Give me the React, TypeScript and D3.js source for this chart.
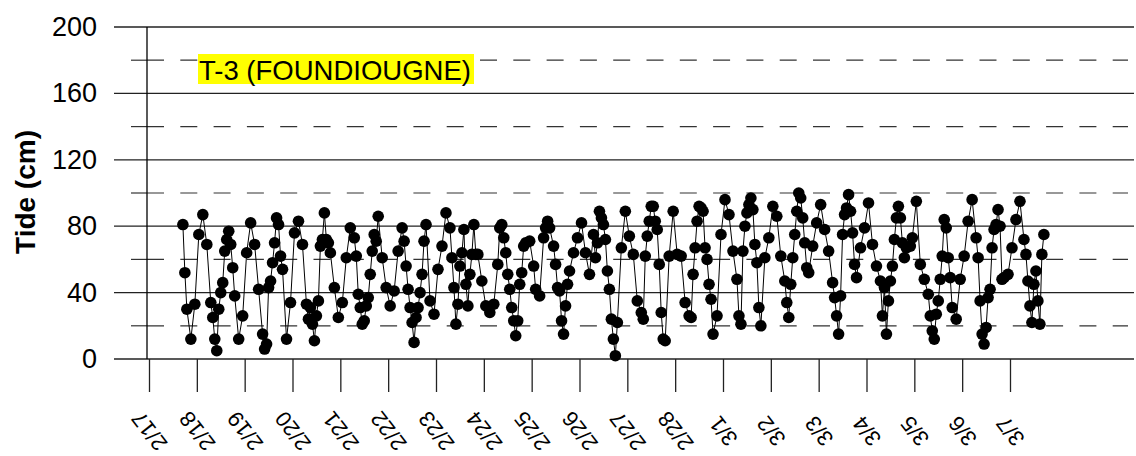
import React, { useEffect, useRef } from "react";
import * as d3 from "d3";

// time axis: one tick per day, 2/17 .. 3/7
const startDate = new Date(2023, 1, 17);
const endDate = new Date(2023, 2, 7);

// observation times, hours after 2/17 00:00
const hoursFromStart = [
  17, 18, 19, 21, 23, 25, 27, 29, 31, 32,
  33, 34, 35, 36, 37, 38, 39, 40, 41, 42,
  43, 45, 47, 49, 51, 53, 55, 57, 58, 59,
  60, 61, 62, 63, 64, 65, 66, 67, 69, 71,
  73, 75, 77, 79, 80, 81, 82, 83, 84, 85,
  86, 87, 88, 89, 90, 91, 93, 95, 97, 99,
  101, 103, 104, 105, 106, 107, 108, 109, 110, 111,
  112, 113, 114, 115, 117, 119, 121, 123, 125, 127,
  128, 129, 130, 131, 132, 133, 134, 135, 136, 137,
  138, 139, 141, 143, 145, 147, 149, 151, 152, 153,
  154, 155, 156, 157, 158, 159, 160, 161, 162, 163,
  164, 165, 167, 169, 171, 173, 175, 176, 177, 178,
  179, 180, 181, 182, 183, 184, 185, 186, 187, 188,
  189, 191, 193, 194, 196, 198, 199, 200, 201, 203,
  204, 205, 206, 207, 208, 209, 210, 211,
  213, 215, 217, 219, 221, 223, 224, 225, 226, 227,
  228, 229, 230, 231, 232, 233, 234, 235, 237, 239,
  241, 243, 245, 247, 248, 249, 250, 251, 252, 253,
  254, 255, 256, 257, 258, 259, 261, 263, 265, 267,
  269, 271, 272, 273, 274, 275, 276, 277, 278, 279,
  280, 281, 282, 283, 285, 287, 289, 291, 293, 295,
  296, 297, 298, 299, 300, 301, 302, 303, 304, 305,
  306, 307, 309, 311, 313, 315, 317, 319, 320, 321,
  322, 323, 324, 325, 326, 327, 328, 329, 330, 331,
  333, 335, 337, 339, 341, 343, 344, 345, 346, 347,
  348, 349, 350, 351, 352, 353, 354, 355, 357, 359,
  361, 363, 365, 367, 368, 369, 370, 371, 372, 373,
  374, 375, 376, 377, 378, 379, 380, 382, 383, 385,
  387, 389, 391, 392, 393, 394, 395, 396, 397, 398,
  399, 400, 401, 402, 403, 405, 407, 409, 411, 413,
  415, 416, 417, 418, 419, 420, 421, 422, 423, 424,
  425, 426, 427, 428, 429, 431, 433, 435, 437, 439,
  440, 441, 442, 443, 444, 445, 446, 447, 448, 449,
];

// tide height (cm), same order as hoursFromStart
const tideCm = [
  81, 52, 30, 12, 33, 75, 87, 69, 34, 25,
  12, 5, 30, 40, 46, 65, 72, 77, 69, 55,
  38, 12, 26, 64, 82, 69, 42, 15, 6, 9,
  43, 47, 58, 70, 85, 81, 62, 54, 12, 34,
  76, 83, 69, 33, 24, 31, 21, 11, 26, 35,
  68, 72, 88, 72, 70, 64, 43, 25, 34, 61,
  79, 73, 62, 39, 31, 21, 23, 32, 37, 51,
  65, 75, 71, 86, 61, 43, 32, 41, 65, 79,
  71, 56, 42, 31, 22, 10, 25, 31, 40, 51,
  71, 81, 35, 27, 54, 68, 88, 79, 61, 43,
  21, 33, 56, 64, 78, 45, 32, 51, 63, 81,
  63, 63, 47, 32, 28, 33, 57, 79, 81, 73,
  64, 51, 42, 31, 23, 14, 23, 45, 52, 68,
  70, 71, 56, 42, 38, 73, 79, 83, 79, 68,
  57, 43, 41, 23, 15, 32, 45, 53,
  64, 73, 82, 64, 51, 75, 61, 70, 89, 85,
  81, 72, 53, 42, 24, 12, 2, 22, 67, 89,
  74, 63, 35, 28, 24, 62, 74, 83, 92, 92,
  83, 78, 57, 28, 12, 11, 62, 89, 63, 62,
  34, 26, 25, 51, 67, 83, 92, 91, 89, 67,
  60, 45, 36, 15, 26, 75, 96, 87, 65, 48,
  26, 21, 65, 80, 88, 93, 97, 90, 69, 58,
  31, 20, 61, 73, 92, 86, 62, 47, 34, 25,
  45, 61, 75, 89, 100, 97, 85, 70, 55, 52,
  68, 82, 93, 78, 65, 46, 37, 26, 15, 38,
  75, 87, 91, 99, 89, 76, 57, 49, 67, 79,
  94, 69, 56, 47, 26, 43, 15, 35, 47, 56,
  72, 85, 92, 85, 70, 61, 67, 68, 73, 95,
  57, 48, 39, 26, 17, 12, 27, 35, 48, 62,
  84, 79, 61, 49, 31, 24, 48, 62, 83, 96,
  73, 61, 35, 15, 9, 19, 37, 42, 67, 78,
  81, 90, 80, 48, 49, 51, 67, 84, 95, 72,
  63, 47, 32, 22, 45, 53, 35, 21, 63, 75,
];

const majorTicks = [0, 40, 80, 120, 160, 200];
const minorTicks = [20, 60, 100, 140, 180];
const chartTitle = "T-3 (FOUNDIOUGNE)";
const yTitle = "Tide (cm)";

const FONT = "'Liberation Sans', Arial, sans-serif";

const App = () => {
  const svgRef = useRef<SVGSVGElement>(null);

  useEffect(() => {
    const svg = d3.select(svgRef.current);
    svg.selectAll("*").remove();

    const x = d3.scaleTime().domain([startDate, endDate]).range([149, 1010]);
    const y = d3.scaleLinear().domain([0, 200]).range([359, 27]);

    // dashed gridlines + small ticks at the odd 20s
    const minor = svg.append("g");
    minor.selectAll("line.dash")
      .data(minorTicks)
      .join("line")
      .attr("class", "dash")
      .attr("x1", 147)
      .attr("x2", 1128)
      .attr("y1", (d) => y(d))
      .attr("y2", (d) => y(d))
      .attr("stroke", "#333")
      .attr("stroke-width", 1.2)
      .attr("stroke-dasharray", "17 16.3");
    minor.selectAll("line.tick")
      .data(minorTicks)
      .join("line")
      .attr("class", "tick")
      .attr("x1", 131)
      .attr("x2", 147)
      .attr("y1", (d) => y(d))
      .attr("y2", (d) => y(d))
      .attr("stroke", "#333")
      .attr("stroke-width", 1.2);

    // solid gridlines
    svg.append("g")
      .selectAll("line")
      .data(majorTicks)
      .join("line")
      .attr("x1", 114)
      .attr("x2", 1134)
      .attr("y1", (d) => y(d))
      .attr("y2", (d) => y(d))
      .attr("stroke", "#222")
      .attr("stroke-width", 1.3);

    // y axis line
    svg.append("line")
      .attr("x1", 147)
      .attr("x2", 147)
      .attr("y1", y(200))
      .attr("y2", y(0))
      .attr("stroke", "#000")
      .attr("stroke-width", 1.3);

    // y labels
    svg.append("g")
      .selectAll("text")
      .data(majorTicks)
      .join("text")
      .attr("x", 97)
      .attr("y", (d) => y(d))
      .attr("text-anchor", "end")
      .attr("dominant-baseline", "central")
      .attr("font-family", FONT)
      .attr("font-size", 27)
      .text((d) => d);

    // x axis, one tick per day
    const xAxis = d3.axisBottom(x)
      .ticks(d3.timeDay.every(1))
      .tickFormat(d3.timeFormat("%-m/%-d") as any)
      .tickSize(33)
      .tickSizeOuter(0);
    const gx = svg.append("g").attr("transform", `translate(0,${y(0)})`).call(xAxis);
    gx.select(".domain").remove();
    gx.selectAll(".tick line").attr("stroke", "#222").attr("stroke-width", 1.3);
    gx.selectAll(".tick text")
      .attr("y", 0)
      .attr("dy", null)
      .attr("fill", "#000")
      .attr("font-family", FONT)
      .attr("font-size", 22)
      .attr("text-anchor", "middle")
      .attr("dominant-baseline", "central")
      .attr("transform", "translate(0,72) rotate(-128)");

    // y title
    svg.append("text")
      .attr("transform", "translate(35,192) rotate(-90)")
      .attr("text-anchor", "middle")
      .attr("font-family", FONT)
      .attr("font-weight", "bold")
      .attr("font-size", 28)
      .text(yTitle);

    // highlighted title
    svg.append("rect")
      .attr("x", 198)
      .attr("y", 54)
      .attr("width", 276)
      .attr("height", 30)
      .attr("fill", "#ffff00");
    svg.append("text")
      .attr("x", 199)
      .attr("y", 80)
      .attr("font-family", FONT)
      .attr("font-size", 27.5)
      .text(chartTitle);

    // series
    const points = hoursFromStart.map((h, i) => ({
      t: d3.timeHour.offset(startDate, h),
      v: tideCm[i],
    }));
    const line = d3.line<{ t: Date; v: number }>()
      .x((d) => x(d.t))
      .y((d) => y(d.v));
    svg.append("path")
      .datum(points)
      .attr("d", line)
      .attr("fill", "none")
      .attr("stroke", "#000")
      .attr("stroke-width", 1);
    svg.append("g")
      .selectAll("circle")
      .data(points)
      .join("circle")
      .attr("cx", (d) => x(d.t))
      .attr("cy", (d) => y(d.v))
      .attr("r", 5.8)
      .attr("fill", "#000");
  }, []);

  return (
    <svg
      ref={svgRef}
      width={1136}
      height={456}
      style={{ position: "absolute", left: 0, top: 0, background: "#fff" }}
    />
  );
};

export default App;
